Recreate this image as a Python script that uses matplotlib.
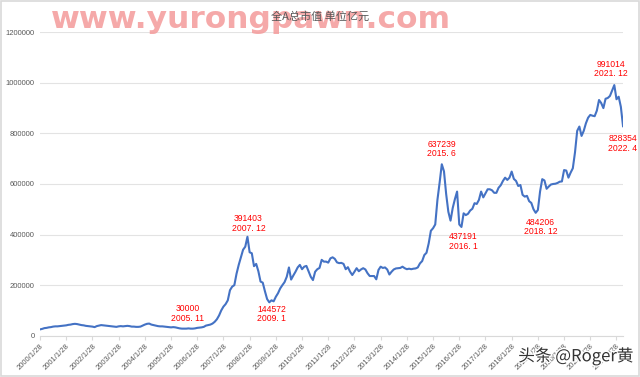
import matplotlib
matplotlib.use("Agg")
import matplotlib.pyplot as plt
import matplotlib.patheffects as pe
from matplotlib.patches import Rectangle

# 全A总市值 (亿元), monthly 2000/1 .. 2022/4
v2000 = [25000, 27000, 30000, 31000, 33000, 34000, 36000, 37000, 37000, 38000, 39000, 40000]
v2001 = [41000, 43000, 44000, 46000, 47000, 46000, 44000, 42000, 41000, 39000, 38000, 37000]
v2002 = [36000, 34000, 38000, 40000, 42000, 41000, 40000, 39000, 38000, 37000, 36000, 35000]
v2003 = [37000, 38000, 37000, 38000, 39000, 38000, 36000, 36000, 35000, 35000, 36000, 40000]
v2004 = [44000, 47000, 48000, 44000, 42000, 40000, 38000, 37000, 37000, 36000, 35000, 34000]
v2005 = [33000, 34000, 33000, 31000, 29000, 28000, 28000, 28000, 29000, 28000, 28000, 29000]
v2006 = [31000, 32000, 33000, 35000, 40000, 42000, 44000, 48000, 55000, 65000, 80000, 100000]
v2007 = [115000, 125000, 140000, 180000, 194000, 200000, 245000, 280000, 310000, 340000, 352000, 391403]
v2008 = [330000, 326000, 275000, 284000, 255000, 214000, 210000, 176000, 145000, 132000, 140000, 136000]
v2009 = [154000, 168000, 187000, 200000, 212000, 233000, 270000, 222000, 238000, 253000, 270000, 280000]
v2010 = [263000, 273000, 276000, 255000, 233000, 220000, 253000, 263000, 268000, 300000, 293000, 293000]
v2011 = [289000, 306000, 310000, 304000, 290000, 287000, 288000, 284000, 263000, 271000, 253000, 240000]
v2012 = [253000, 267000, 255000, 262000, 267000, 262000, 247000, 236000, 236000, 236000, 223000, 260000]
v2013 = [273000, 268000, 270000, 262000, 242000, 253000, 262000, 266000, 267000, 268000, 273000, 267000]
v2014 = [263000, 265000, 263000, 265000, 266000, 270000, 286000, 295000, 319000, 328000, 365000, 415000]
v2015 = [425000, 440000, 537000, 605000, 678000, 650000, 560000, 490000, 455000, 505000, 540000, 570000]
v2016 = [440000, 430000, 484000, 477000, 482000, 495000, 502000, 524000, 521000, 537000, 570000, 547000]
v2017 = [563000, 579000, 579000, 575000, 565000, 565000, 585000, 595000, 612000, 625000, 616000, 625000]
v2018 = [649000, 620000, 612000, 592000, 596000, 557000, 550000, 553000, 532000, 525000, 500000, 486000]
v2019 = [497000, 570000, 619000, 614000, 581000, 590000, 598000, 600000, 601000, 604000, 609000, 610000]
v2020 = [655000, 653000, 625000, 645000, 662000, 725000, 810000, 827000, 790000, 810000, 840000, 862000]
v2021 = [873000, 870000, 868000, 890000, 932000, 920000, 900000, 937000, 940000, 948000, 970000, 991014]
v2022 = [935000, 945000, 905000, 828354]

values = (v2000 + v2001 + v2002 + v2003 + v2004 + v2005 + v2006 + v2007 + v2008 + v2009
          + v2010 + v2011 + v2012 + v2013 + v2014 + v2015 + v2016 + v2017 + v2018
          + v2019 + v2020 + v2021 + v2022)
years = list(range(2000, 2023))
tick_labels = [f"{y}/1/28" for y in years]

# (month index, label text, x offset px, y offset px, va)
notes = [
    (70, "30000\n2005. 11", -5, 6, "bottom"),
    (95, "391403\n2007. 12", 1, 4, "bottom"),
    (108, "144572\n2009. 1", -4, -8, "top"),
    (184, "637239\n2015. 6", 0, 6, "bottom"),
    (192, "437191\n2016. 1", 4, -8, "top"),
    (227, "484206\n2018. 12", 5, -5, "top"),
    (263, "991014\n2021. 12", -3, 7, "bottom"),
    (267, "828354\n2022. 4", 0, -8, "top"),
]

fig = plt.figure(figsize=(6.4, 3.77), dpi=100)
ax = fig.add_axes([0.0625, 0.1095, 0.911, 0.805])

x = list(range(len(values)))
ax.plot(x, values, color="#4472C4", lw=1.5, zorder=3)

ax.set_xlim(0, len(values) - 1)
ax.set_ylim(0, 1200000)
ax.set_yticks(range(0, 1200001, 200000))
ax.set_yticklabels([str(t) for t in range(0, 1200001, 200000)])
ax.set_xticks(range(0, len(values), 12))
ax.set_xticklabels(tick_labels, rotation=45, ha="right", va="top", rotation_mode="anchor")

ax.grid(axis="y", color="#e3e3e3", lw=0.8)
ax.set_axisbelow(True)
for s in ["top", "right", "left"]:
    ax.spines[s].set_visible(False)
ax.spines["bottom"].set_color("#d9d9d9")
ax.tick_params(axis="y", length=0, pad=4, labelsize=5.5, labelcolor="#595959")
ax.tick_params(axis="x", length=3, color="#d9d9d9", pad=2, labelsize=5.5, labelcolor="#595959")
for t in ax.get_xticklabels() + ax.get_yticklabels():
    t.set_fontfamily("Liberation Sans")

for i, txt, dx, dy, va in notes:
    ax.annotate(txt, xy=(i, values[i]), xytext=(dx * 0.72, dy * 0.72),
                textcoords="offset points", ha="center", va=va,
                color="#ff0000", fontsize=6.2, linespacing=1.05,
                family="Liberation Sans", zorder=4)

# watermark + title
fig.text(0.392, 0.948, "www.yurongpawn.com", ha="center", va="center",
         fontsize=22.5, fontweight="bold", color="#f49a9a", alpha=0.85,
         family="DejaVu Sans", zorder=1)
fig.text(0.5, 0.957, "全A总市值 单位亿元", ha="center", va="center",
         fontsize=8, color="#595959", family=["Noto Sans CJK SC", "DejaVu Sans"], zorder=2)
fig.text(0.99, 0.055, "头条 @Roger黄", ha="right", va="center", fontsize=12,
         color="#333333", family=["Noto Sans CJK SC", "DejaVu Sans"],
         path_effects=[pe.withStroke(linewidth=2, foreground="white")], zorder=5)

fig.patches.append(Rectangle((0.001, 0.002), 0.997, 0.996, transform=fig.transFigure,
                             fill=False, edgecolor="#d9d9d9", lw=1.2))

fig.savefig("out.png", dpi=100)
